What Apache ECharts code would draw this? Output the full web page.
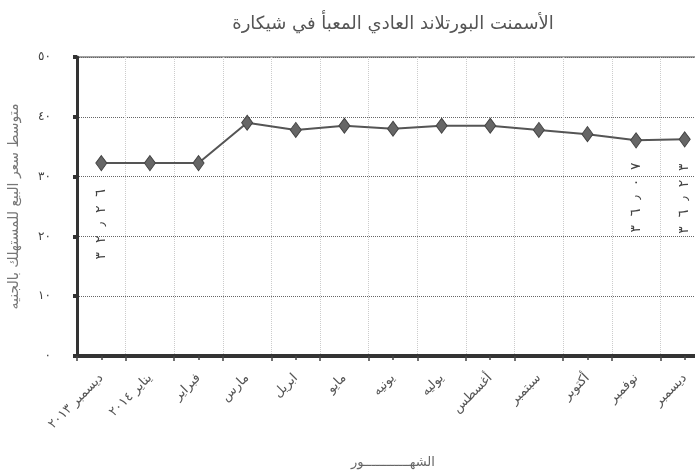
<!DOCTYPE html>
<html><head><meta charset="utf-8">
<script src="https://cdn.jsdelivr.net/npm/echarts@6/dist/echarts.min.js"></script>
<style>html,body{margin:0;padding:0;background:#fff}#c{width:695px;height:473px}</style>
</head><body><div id="c"></div>
<script>
var titleText = 'الأسمنت البورتلاند العادي المعبأ في شيكارة';
var yName = 'متوسط سعر البيع للمستهلك بالجنيه';
var xName = 'الشهــــــــــــور';
var categories = ['ديسمبر ٢٠١٣','يناير ٢٠١٤','فبراير','مارس','ابريل','مايو','يونيه','يوليه','أغسطس','سبتمبر','أكتوبر','نوفمبر','ديسمبر'];
var values = [32.26, 32.26, 32.26, 39.0, 37.8, 38.5, 38.0, 38.5, 38.5, 37.8, 37.1, 36.07, 36.23];
var annotations = ['٣٢٫٢٦', '', '', '', '', '', '', '', '', '', '', '٣٦٫٠٧', '٣٦٫٢٣'];
var yTickLabels = ['٠','١٠','٢٠','٣٠','٤٠','٥٠'];
var annotDistance = [18, 0,0,0,0,0,0,0,0,0,0, 14, 16];

var FONT = 'DejaVu Sans';
function spaced(s){ return s.split('').join('\u200E\u00a0\u00a0'); }
var chart = echarts.init(document.getElementById('c'), null, {renderer:'canvas'});
var seriesData = values.map(function(v, i){
  var item = {value: v};
  if (annotations[i]) {
    item.label = {show:true, formatter: spaced(annotations[i]), position:'bottom', distance: annotDistance[i],
      rotate: 90, align:'right', verticalAlign:'middle', fontSize: 14, color:'#444', fontFamily: FONT};
  }
  return item;
});
chart.setOption({
  backgroundColor:'#fff',
  animation:false,
  title:{text:titleText, left:388, top:10, textAlign:'center',
    textStyle:{fontFamily:FONT, fontSize:18, fontWeight:'normal', color:'#555'}},
  grid:{left:77, top:57, width:632, height:299, show:true, borderColor:'#444', borderWidth:1,
    backgroundColor:'transparent', containLabel:false, outerBoundsMode:'none'},
  xAxis:[{
    type:'category', data:categories, boundaryGap:true,
    name:xName, nameLocation:'middle', nameGap:100,
    nameTextStyle:{fontFamily:FONT, fontSize:13, color:'#666'},
    axisLine:{show:true, lineStyle:{color:'#333', width:4}},
    axisTick:{show:true, length:5, lineStyle:{color:'#444', width:1.5}},
    axisLabel:{interval:0, rotate:45, margin:20, fontFamily:FONT, fontSize:13, color:'#555'},
    splitLine:{show:true, lineStyle:{color:'#ccc', type:'dotted', width:1}}
  },{
    type:'category', data:categories, boundaryGap:true, position:'bottom',
    axisLine:{show:false}, axisLabel:{show:false}, splitLine:{show:false},
    axisTick:{show:true, alignWithLabel:true, length:4, lineStyle:{color:'#444', width:1.5}}
  }],
  yAxis:{
    type:'value', min:0, max:50, interval:10,
    name:yName, nameLocation:'middle', nameGap:56, nameRotate:90,
    nameTextStyle:{fontFamily:FONT, fontSize:14, color:'#777'},
    axisLine:{show:true, lineStyle:{color:'#333', width:3}},
    axisTick:{show:true, length:4, lineStyle:{color:'#333', width:4}},
    axisLabel:{margin:26, fontFamily:FONT, fontSize:12, color:'#444',
      formatter:function(v){ return yTickLabels[Math.round(v/10)]; }},
    splitLine:{show:true, lineStyle:{color:'#666', type:'dotted', width:1}}
  },
  series:[{
    type:'line', xAxisIndex:0, data:seriesData,
    symbol:'diamond', symbolSize:[11,15],
    lineStyle:{color:'#555', width:2},
    itemStyle:{color:'#666', borderColor:'#444', borderWidth:1}
  }]
});
</script></body></html>
